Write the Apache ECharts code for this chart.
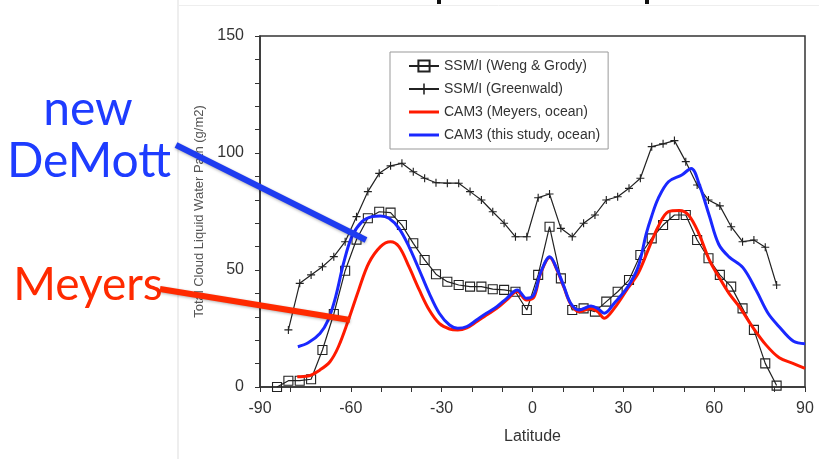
<!DOCTYPE html>
<html>
<head>
<meta charset="utf-8">
<script src="https://cdn.jsdelivr.net/npm/echarts@6/dist/echarts.min.js"></script>
<style>
html,body{margin:0;padding:0;background:#fff;}
#c{width:819px;height:459px;}
</style>
</head>
<body>
<div id="c"></div>
<script>
// ---- data ----
var xTicks = [-90, -60, -30, 0, 30, 60, 90];
var yTicks = [0, 50, 100, 150];

var wengLat = [-84.375,-80.625,-76.875,-73.125,-69.375,-65.625,-61.875,-58.125,-54.375,-50.625,-46.875,-43.125,-39.375,-35.625,-31.875,-28.125,-24.375,-20.625,-16.875,-13.125,-9.375,-5.625,-1.875,1.875,5.625,9.375,13.125,16.875,20.625,24.375,28.125,31.875,35.625,39.375,43.125,46.875,50.625,54.375,58.125,61.875,65.625,69.375,73.125,76.875,80.625];
var wengVal = [0,2.7,2.7,3.3,15.8,31.2,49.7,63,72.1,74.9,74.5,69.2,61.4,54.3,48.2,45.0,43.6,42.9,42.9,41.8,41.5,40.7,32.9,47.9,68.5,46.4,32.9,33.6,32.2,36.5,40.7,45.7,56.4,63.5,69.2,73.5,73.5,62.8,55.0,47.9,42.9,33.6,24.4,10.1,0.6];

var greenLat = [-80.625,-76.875,-73.125,-69.375,-65.625,-61.875,-58.125,-54.375,-50.625,-46.875,-43.125,-39.375,-35.625,-31.875,-28.125,-24.375,-20.625,-16.875,-13.125,-9.375,-5.625,-1.875,1.875,5.625,9.375,13.125,16.875,20.625,24.375,28.125,31.875,35.625,39.375,43.125,46.875,50.625,54.375,58.125,61.875,65.625,69.375,73.125,76.875,80.625];
var greenVal = [24.4,44.3,47.9,51.4,55.7,62.1,72.8,83.5,91.3,94.5,95.6,92.0,89.2,87.3,87.1,87.1,83.5,79.9,74.9,70.0,64.2,64.2,80.9,82.5,67.8,64.2,70.0,73.5,79.9,81.3,84.9,89.2,102.7,103.9,105.3,96.3,86.3,79.9,77.4,68.5,62.1,62.8,59.7,43.6];

var meyersLat = [-77.7,-74.1,-70.2,-66.9,-64.1,-60.8,-57.4,-54.1,-50.2,-46.9,-44.1,-40.8,-37.4,-34.1,-30.8,-27.4,-24.7,-21.7,-18.5,-15.2,-11.8,-8.5,-5.0,-2.0,0.4,2.6,5.7,8.2,10.4,12.6,15.4,19.3,21.5,23.7,27.0,31.5,34.9,38.2,41.5,44.9,48.5,51.5,54.9,58.5,61.8,64.9,68.7,72.6,77.1,81.5,86.0,90.0];
var meyersVal = [4.4,4.7,7.3,10.8,17.2,28.6,41.5,52.9,60.0,62.1,60.0,51.4,41.5,32.9,27.2,24.8,24.4,25.3,27.9,30.8,33.6,37.2,40.8,37.2,38.2,48.2,55.3,49.6,42.5,35.5,32.2,33.6,32.2,29.4,33.6,42.2,48.6,58.6,68.5,74.9,75.4,73.5,65.7,54.0,46.5,40.0,33.6,25.8,18.0,12.5,10.1,8.0];

var demottLat = [-77.5,-74.1,-70.2,-67.5,-65.0,-62.4,-59.7,-56.3,-53.0,-50.2,-47.4,-44.1,-40.8,-37.4,-34.1,-30.8,-27.4,-24.7,-21.7,-18.5,-15.2,-11.8,-8.5,-5.0,-2.0,0.4,2.6,5.7,8.2,10.4,12.6,15.4,19.3,21.5,23.7,27.0,31.5,34.9,37.6,39.3,41.5,44.9,49.3,52.4,55.1,58.4,61.5,64.9,69.5,74.0,77.8,81.3,86.2,90.0];
var demottVal = [17.2,18.9,22.9,28.6,38.6,52.9,64.2,70.7,72.8,73.1,72.1,67.8,60.0,50.0,40.0,31.5,26.5,25.1,25.8,28.6,31.5,34.3,37.9,41.5,37.9,39.3,48.6,55.7,50.0,42.9,35.8,32.9,34.6,33.6,31.5,35.8,42.9,51.4,65.7,72.8,80.5,87.7,90.6,93.4,86.5,73.2,61.0,55.6,51.0,41.0,31.5,26.0,19.5,18.5];

var seriesNames = ['SSM/I (Weng & Grody)', 'SSM/I (Greenwald)', 'CAM3 (Meyers, ocean)', 'CAM3 (this study, ocean)'];

function pairs(a, b) { return a.map(function (v, i) { return [v, b[i]]; }); }

var FONT = '"Liberation Sans", Arial, sans-serif';
var chart = echarts.init(document.getElementById('c'), null, {renderer: 'canvas'});
var plus = 'path://M4.3,0H5.7V10H4.3ZM0,4.3H10V5.7H0Z';
var lineIcon = 'path://M0,0H30V3H0Z';

chart.setOption({
  animation: false,
  backgroundColor: '#fff',
  grid: {left: 260, right: 14, top: 36, bottom: 72, show: true, borderColor: '#333', borderWidth: 1.5, backgroundColor: 'transparent'},
  legend: {
    orient: 'vertical', left: 390, top: 52, z: 20,
    padding: [7, 8, 7, 18],
    backgroundColor: '#fff',
    borderColor: '#999', borderWidth: 1,
    itemWidth: 30, itemHeight: 14, itemGap: 9,
    textStyle: {fontFamily: FONT, fontSize: 14, color: '#333'},
    data: [
      {name: seriesNames[0]},
      {name: seriesNames[1]},
      {name: seriesNames[2], icon: lineIcon},
      {name: seriesNames[3], icon: lineIcon}
    ]
  },
  xAxis: {
    type: 'value', min: -90, max: 90, interval: 30,
    name: 'Latitude', nameLocation: 'middle', nameGap: 42,
    nameTextStyle: {fontFamily: FONT, fontSize: 16, color: '#333'},
    axisLine: {onZero: false, lineStyle: {color: '#333', width: 1.5}},
    axisTick: {show: true, length: 5, lineStyle: {color: '#333'}},
    minorTick: {show: true, splitNumber: 3, length: 5, lineStyle: {color: '#333'}},
    splitLine: {show: false},
    axisLabel: {fontFamily: FONT, fontSize: 16, color: '#333', margin: 14,
      formatter: function (v) { return xTicks.indexOf(v) >= 0 ? String(v) : ''; }}
  },
  yAxis: {
    type: 'value', min: 0, max: 150, interval: 50,
    name: 'Total Cloud Liquid Water Path (g/m2)', nameLocation: 'middle', nameGap: 43,
    nameTextStyle: {fontFamily: FONT, fontSize: 13, color: '#555'},
    axisLine: {show: true, onZero: false, lineStyle: {color: '#333', width: 1.5}},
    axisTick: {show: true, length: 5, lineStyle: {color: '#333'}},
    minorTick: {show: true, splitNumber: 5, length: 5, lineStyle: {color: '#333'}},
    splitLine: {show: false},
    axisLabel: {fontFamily: FONT, fontSize: 16, color: '#333', margin: 16,
      formatter: function (v) { return yTicks.indexOf(v) >= 0 ? String(v) : ''; }}
  },
  series: [
    {
      name: seriesNames[0], type: 'line', data: pairs(wengLat, wengVal),
      symbol: 'rect', symbolSize: 9, showAllSymbol: true, z: 3,
      lineStyle: {color: '#222', width: 1.2},
      itemStyle: {color: 'rgba(255,255,255,0)', borderColor: '#222', borderWidth: 1.1}
    },
    {
      name: seriesNames[1], type: 'line', data: pairs(greenLat, greenVal),
      symbol: plus, symbolSize: 8, showAllSymbol: true, z: 3,
      lineStyle: {color: '#222', width: 1.2},
      itemStyle: {color: '#222'}
    },
    {
      name: seriesNames[2], type: 'line', data: pairs(meyersLat, meyersVal),
      symbol: 'none', smooth: 0.35, z: 4,
      lineStyle: {color: '#ff1a00', width: 3},
      itemStyle: {color: '#ff1a00'}
    },
    {
      name: seriesNames[3], type: 'line', data: pairs(demottLat, demottVal),
      symbol: 'none', smooth: 0.35, z: 5,
      lineStyle: {color: '#1a28ff', width: 3},
      itemStyle: {color: '#1a28ff'}
    }
  ],
  graphic: [
    {type: 'line', shape: {x1: 178, y1: 0, x2: 178, y2: 459}, style: {stroke: '#ddd', lineWidth: 1}},
    {type: 'line', shape: {x1: 178, y1: 5.5, x2: 819, y2: 5.5}, style: {stroke: '#eee', lineWidth: 1}},
    {type: 'rect', shape: {x: 437, y: 0, width: 4, height: 4}, style: {fill: '#111'}},
    {type: 'rect', shape: {x: 645, y: 0, width: 4, height: 4}, style: {fill: '#111'}},
    {type: 'text', style: {text: 'new', x: 88, y: 110, textAlign: 'center', textVerticalAlign: 'middle',
      font: '48px Lato, "Open Sans", sans-serif', fill: '#1e3cff'}},
    {type: 'text', style: {text: 'DeMott', x: 89, y: 162, textAlign: 'center', textVerticalAlign: 'middle',
      font: '48px Lato, "Open Sans", sans-serif', fill: '#1e3cff'}},
    {type: 'text', style: {text: 'Meyers', x: 88, y: 285, textAlign: 'center', textVerticalAlign: 'middle',
      font: '46px Lato, "Open Sans", sans-serif', fill: '#ff2a00'}},
    {type: 'line', z: 100, shape: {x1: 176, y1: 145, x2: 366, y2: 240}, style: {stroke: '#1e3cf0', lineWidth: 6, shadowBlur: 3, shadowColor: 'rgba(0,0,0,0.3)', shadowOffsetY: 1}},
    {type: 'line', z: 100, shape: {x1: 160, y1: 289, x2: 350, y2: 320}, style: {stroke: '#ff2a00', lineWidth: 6, shadowBlur: 3, shadowColor: 'rgba(0,0,0,0.3)', shadowOffsetY: 1}}
  ]
});
</script>
</body>
</html>
